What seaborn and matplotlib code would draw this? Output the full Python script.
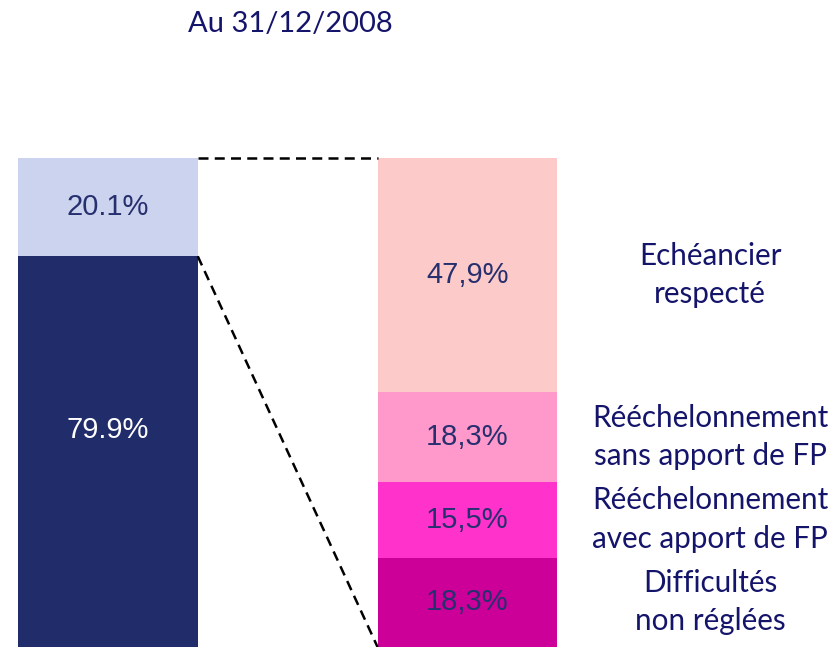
import numpy as np
import matplotlib
matplotlib.use('Agg')
import matplotlib.pyplot as plt
import seaborn as sns

# Data (bottom to top)
title = 'Au 31/12/2008'
left_values = [79.9, 20.1]
left_text = ['79.9%', '20.1%']
left_colors = ['#212d6b', '#ccd3ee']
left_text_colors = ['white', '#27306e']

right_labels = ['Difficultés\nnon réglées', 'Rééchelonnement\navec apport de FP',
                'Rééchelonnement\nsans apport de FP', 'Echéancier\nrespecté']
right_values = [18.3, 15.5, 18.3, 47.9]
right_text = ['18,3%', '15,5%', '18,3%', '47,9%']
right_colors = ['#cc0099', '#ff33cc', '#ff99cc', '#fdcaca']

order = ['gauche', 'droite']
navy = '#14146b'

sns.set_style('white')
fig = plt.figure(figsize=(8.36, 6.47), dpi=100)
ax = fig.add_axes([0, 0, 1, 1])

# stacked bars: draw cumulative totals from tallest to shortest
for name, values, colors in [('gauche', left_values, left_colors),
                             ('droite', right_values, right_colors)]:
    cum = np.cumsum(values)
    for i in reversed(range(len(values))):
        sns.barplot(x=[name], y=[cum[i]], order=order, color=colors[i],
                    saturation=1, width=0.5, errorbar=None, linewidth=0,
                    ax=ax)

# value labels in bars
cum = np.cumsum(left_values)
for i, v in enumerate(left_values):
    yc = cum[i] - v / 2
    if i == 0:
        yc += 4.5
    ax.text(0, yc, left_text[i], ha='center', va='center', fontsize=21,
            family='Liberation Sans', color=left_text_colors[i])

cum = np.cumsum(right_values)
for i, v in enumerate(right_values):
    yc = cum[i] - v / 2
    ax.text(1, yc, right_text[i], ha='center', va='center', fontsize=21,
            family='Liberation Sans', color='#27306e')
    ax.text(1.675, yc, right_labels[i], ha='center', va='center', fontsize=21.3,
            family='Lato', color=navy, linespacing=1.45)

# dashed connectors
ax.plot([0.25, 0.75], [100, 100], color='black', lw=1.8, ls=(0, (4, 2.5)))
ax.plot([0.25, 0.75], [left_values[0], 0], color='black', lw=1.8, ls=(0, (4, 2.5)))

fig.text(290 / 836, 1 - 24 / 647, title, ha='center', va='center',
         fontsize=21, family='Lato', color=navy)

ax.set_xlim(-0.3, 2.025)
ax.set_ylim(0, 132.3)
ax.axis('off')

fig.savefig('out.png', dpi=100)
plt.close(fig)
